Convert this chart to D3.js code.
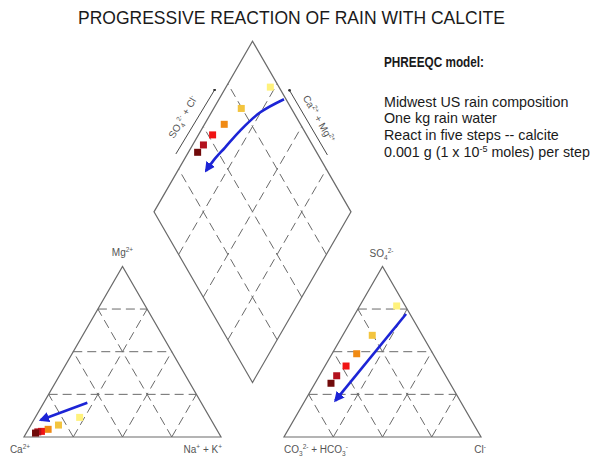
<!DOCTYPE html>
<html>
<head>
<meta charset="utf-8">
<script src="https://cdn.jsdelivr.net/npm/d3@7"></script>
<style>
  body { margin: 0; background: #fff; }
  text { font-family: "Liberation Sans", Arial, sans-serif; }
</style>
</head>
<body>
<svg></svg>
<script>
// rain water, then five calcite reaction steps
let stepNames = ['rain', 'step 1', 'step 2', 'step 3', 'step 4', 'step 5'];
let stepColors = ['#fff27c', '#f3c43e', '#f08a14', '#f01414', '#b3121e', '#700a0a'];

// cations (% meq)
let caPct  = [66.0, 79.0, 85.5, 89.5, 91.5, 93.0];
let mgPct  = [11.5, 7.0, 4.5, 3.3, 3.0, 2.3];
let nakPct = [22.5, 14.0, 10.0, 7.2, 5.5, 4.7];

// anions (% meq)
let hco3Pct = [4.4, 25.4, 38.7, 47.7, 55.3, 60.4];
let so4Pct  = [76.8, 59.6, 48.8, 41.6, 35.9, 31.5];
let clPct   = [18.8, 15.0, 12.5, 10.7, 8.8, 8.1];

// trend arrows
let cationArrow = [[22.1, 20.1], [3.5, 10.0]];   // [Na+K, Mg]
let anionArrow = [[25.9, 72.1], [15.4, 21.3]];   // [Cl, SO4]
let diamondArrow = [[67, 99], [75.3, 82.9], [80.1, 67.4], [82.8, 54.9], [84.9, 45], [85.6, 38.4]]; // [Ca+Mg, SO4+Cl]

let gridTicks = [25, 50, 75];

let titleText = 'PROGRESSIVE REACTION OF RAIN WITH CALCITE';
let noteHead = 'PHREEQC model:';
let noteLines = ['Midwest US rain composition', 'One kg rain water', 'React in five steps -- calcite'];

// layout
let width = 610;
let height = 463;
let side = 197;
let tri = side * Math.sqrt(3) / 2;
let baseY = 437;
let leftX = 24;
let rightX = 284;
let gap = rightX - leftX - side;
let bottomX = leftX + side + gap / 2;
let bottomY = baseY - gap * Math.sqrt(3) / 2;

let svg = d3.select('svg').attr('width', width).attr('height', height);

let xScale = d3.scaleLinear().domain([0, 100]).range([0, side]);
let yScale = d3.scaleLinear().domain([0, 100]).range([0, tri]);

// r = value of right-hand corner, t = value of top corner
let triPoint = (x0, r, t) => [x0 + xScale(r) + xScale(t) / 2, baseY - yScale(t)];
// c = Ca+Mg, a = SO4+Cl
let diamondPoint = (c, a) => [bottomX + xScale(a - c) / 2, bottomY - yScale(a + c)];

let line = d3.line();
let gridColor = '#6a6a6a';

let drawSeg = (g, p, q, dashed) => {
    g.append('path')
        .attr('d', line([p, q]))
        .attr('fill', 'none')
        .attr('stroke', gridColor)
        .attr('stroke-width', dashed ? 1 : 1.2)
        .attr('stroke-dasharray', dashed ? '9,5' : null);
};

// triangles
let drawTriangle = (x0) => {
    let g = svg.append('g');
    gridTicks.forEach(k => {
        drawSeg(g, triPoint(x0, 0, k), triPoint(x0, 100 - k, k), true);
        drawSeg(g, triPoint(x0, k, 0), triPoint(x0, k, 100 - k), true);
        drawSeg(g, triPoint(x0, 100 - k, 0), triPoint(x0, 0, 100 - k), true);
    });
    g.append('path')
        .attr('d', line([triPoint(x0, 0, 0), triPoint(x0, 100, 0), triPoint(x0, 0, 100)]) + 'Z')
        .attr('fill', 'none')
        .attr('stroke', gridColor)
        .attr('stroke-width', 1.2);
};
drawTriangle(leftX);
drawTriangle(rightX);

// diamond
let dg = svg.append('g');
gridTicks.forEach(k => {
    drawSeg(dg, diamondPoint(k, 0), diamondPoint(k, 100), true);
    drawSeg(dg, diamondPoint(0, k), diamondPoint(100, k), true);
});
dg.append('path')
    .attr('d', line([diamondPoint(0, 0), diamondPoint(100, 0), diamondPoint(100, 100), diamondPoint(0, 100)]) + 'Z')
    .attr('fill', 'none')
    .attr('stroke', gridColor)
    .attr('stroke-width', 1.2);

// labels with sub/superscripts
let addLabel = (parts, x, y, anchor, rotate) => {
    let t = svg.append('text')
        .attr('transform', `translate(${x},${y}) rotate(${rotate || 0})`)
        .attr('text-anchor', anchor)
        .attr('fill', '#555')
        .attr('font-size', 10);
    let shift = 0;
    parts.forEach(p => {
        let dy = p[1] === 'sup' ? -4 : p[1] === 'sub' ? 3 : 0;
        t.append('tspan')
            .attr('dy', dy - shift)
            .attr('font-size', p[1] ? 6.5 : 10)
            .text(p[0]);
        shift = dy;
    });
};

let lt = triPoint(leftX, 0, 100);
addLabel([['Mg'], ['2+', 'sup']], lt[0], lt[1] - 10, 'middle');
addLabel([['Ca'], ['2+', 'sup']], leftX - 4, baseY + 16, 'middle');
addLabel([['Na'], ['+', 'sup'], [' + K'], ['+', 'sup']], leftX + side + 1, baseY + 16, 'end');

let rt = triPoint(rightX, 0, 100);
addLabel([['SO'], ['4', 'sub'], ['2-', 'sup']], rt[0] - 1, rt[1] - 9, 'middle');
addLabel([['CO'], ['3', 'sub'], ['2-', 'sup'], [' + HCO'], ['3', 'sub'], ['-', 'sup']], rightX, baseY + 16, 'start');
addLabel([['Cl'], ['-', 'sup']], rightX + side - 1, baseY + 16, 'middle');

// diamond edge labels and direction lines
let nLeft = [-Math.sqrt(3) / 2, -0.5];
let nRight = [Math.sqrt(3) / 2, -0.5];
let offset = (p, n, d) => [p[0] + n[0] * d, p[1] + n[1] * d];

svg.append('defs').append('marker')
    .attr('id', 'tip')
    .attr('viewBox', '0 0 10 10')
    .attr('refX', 5).attr('refY', 5)
    .attr('markerWidth', 3).attr('markerHeight', 3)
    .append('circle').attr('cx', 5).attr('cy', 5).attr('r', 5).attr('fill', '#333');

let edgeLine = (p, q) => {
    svg.append('path')
        .attr('d', line([p, q]))
        .attr('stroke', '#333')
        .attr('stroke-width', 0.9)
        .attr('marker-end', 'url(#tip)');
};
edgeLine(offset(diamondPoint(100, 31), nLeft, 10), offset(diamondPoint(100, 69), nLeft, 8.5));
edgeLine(offset(diamondPoint(31, 100), nRight, 8), offset(diamondPoint(69, 100), nRight, 7.5));

let lp = offset(diamondPoint(100, 49), nLeft, 19);
addLabel([['SO'], ['4', 'sub'], ['2-', 'sup'], [' + Cl'], ['-', 'sup']], lp[0], lp[1], 'middle', -60);
let rp = offset(diamondPoint(49, 100), nRight, 15);
addLabel([['Ca'], ['2+', 'sup'], [' + Mg'], ['2+', 'sup']], rp[0], rp[1], 'middle', 60);

// blue trend arrows
let blue = '#1c24d6';
svg.select('defs').append('marker')
    .attr('id', 'arrow')
    .attr('viewBox', '0 0 10 10')
    .attr('refX', 8).attr('refY', 5)
    .attr('markerWidth', 4).attr('markerHeight', 4)
    .attr('orient', 'auto')
    .append('path').attr('d', 'M0,0L10,5L0,10Z').attr('fill', blue);

let drawArrow = (pts, curved) => {
    svg.append('path')
        .attr('d', (curved ? d3.line().curve(d3.curveCatmullRom) : line)(pts))
        .attr('fill', 'none')
        .attr('stroke', blue)
        .attr('stroke-width', 2.6)
        .attr('marker-end', 'url(#arrow)');
};

// sample squares
let sq = 7;
let drawSquares = (pts) => {
    svg.append('g').selectAll('rect')
        .data(pts)
        .enter()
        .append('rect')
        .attr('x', d => d[0] - sq / 2)
        .attr('y', d => d[1] - sq / 2)
        .attr('width', sq)
        .attr('height', sq)
        .attr('fill', (d, i) => stepColors[i]);
};

drawSquares(stepNames.map((s, i) => triPoint(leftX, nakPct[i], mgPct[i])));
drawSquares(stepNames.map((s, i) => triPoint(rightX, clPct[i], so4Pct[i])));
drawSquares(stepNames.map((s, i) => diamondPoint(caPct[i] + mgPct[i], so4Pct[i] + clPct[i])));

drawArrow(cationArrow.map(d => triPoint(leftX, d[0], d[1])));
drawArrow(anionArrow.map(d => triPoint(rightX, d[0], d[1])));
drawArrow(diamondArrow.map(d => diamondPoint(d[0], d[1])), true);

// title and notes
svg.append('text')
    .attr('x', 78).attr('y', 24)
    .attr('font-size', 17.5)
    .attr('fill', '#1a1a1a')
    .text(titleText);

let note = svg.append('g').attr('fill', '#1a1a1a');
note.append('text')
    .attr('x', 384).attr('y', 67)
    .attr('font-size', 15)
    .attr('font-weight', 'bold')
    .attr('textLength', 100)
    .attr('lengthAdjust', 'spacingAndGlyphs')
    .text(noteHead);
noteLines.forEach((s, i) => {
    note.append('text')
        .attr('x', 384).attr('y', 106.5 + i * 16.7)
        .attr('font-size', 14.3)
        .text(s);
});
let last = note.append('text')
    .attr('x', 384).attr('y', 106.5 + 3 * 16.7)
    .attr('font-size', 14.3);
last.append('tspan').text('0.001 g (1 x 10');
last.append('tspan').attr('dy', -5).attr('font-size', 9).text('-5');
last.append('tspan').attr('dy', 5).text(' moles) per step');
</script>
</body>
</html>
